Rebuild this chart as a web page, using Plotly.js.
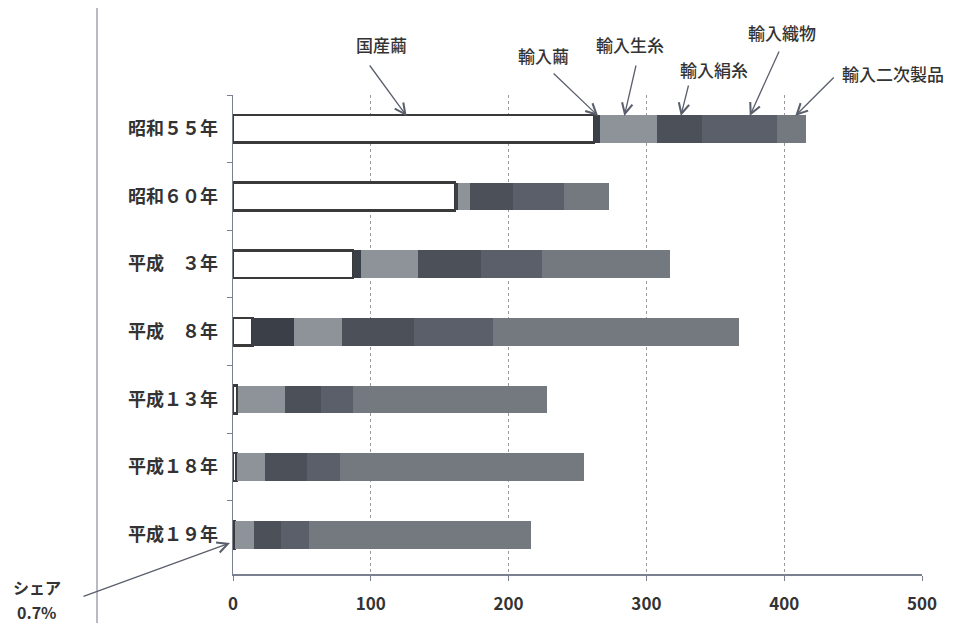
<!DOCTYPE html>
<html>
<head>
<meta charset="utf-8">
<script src="https://cdn.plot.ly/plotly-3.0.1.min.js"></script>
<style>html,body{margin:0;padding:0;background:#fff;}#chart{width:957px;height:623px;}</style>
</head>
<body>
<div id="chart"></div>
<script>
const years = ['昭和５５年','昭和６０年','平成　３年','平成　８年','平成１３年','平成１８年','平成１９年'];
const domesticCocoon = [262, 161, 87, 14, 3, 2.5, 1.5];
const importCocoon   = [4, 2, 6, 30, 0.5, 0.5, 0.2];
const importRawSilk  = [42, 9, 41, 35, 34.5, 20, 13.8];
const importSilkYarn = [32, 31, 46, 52, 26, 31, 19.5];
const importFabric   = [55, 37, 44, 58, 23, 24, 20];
const importSecondary= [21, 33, 93, 178, 141, 177, 161];
const seriesNames = ['国産繭','輸入繭','輸入生糸','輸入絹糸','輸入織物','輸入二次製品'];
const xTicks = [0, 100, 200, 300, 400, 500];

const fillColors = ['#ffffff', '#3b3f48', '#8e9299', '#4b5059', '#5a5f69', '#74787f'];
const allValues = [domesticCocoon, importCocoon, importRawSilk, importSilkYarn, importFabric, importSecondary];

const traces = allValues.map((vals, i) => ({
  type: 'bar', orientation: 'h', name: seriesNames[i],
  x: vals, y: years,
  marker: {color: fillColors[i], line: {color: i === 0 ? '#3a3a3a' : fillColors[i], width: i === 0 ? 2.5 : 0}},
  hoverinfo: 'skip'
}));

const font = 'Noto Sans CJK JP, sans-serif';
const arrowColor = '#5a5f6c';
function arrow(xv, yp, ax, ay) {
  return {x: xv, y: yp, xref: 'x', yref: 'paper', text: '', showarrow: true,
    arrowhead: 5, arrowsize: 1.6, arrowwidth: 1.3, arrowcolor: arrowColor,
    ax: ax, ay: ay, axref: 'pixel', ayref: 'pixel', standoff: 0};
}
function label(t, px, py, size, weight) {
  return {text: t, x: (px - 233) / 689, y: (574 - py) / 479, xref: 'paper', yref: 'paper',
    showarrow: false, xanchor: 'center', yanchor: 'middle',
    font: {family: font, size: size || 17, color: '#333', weight: weight || 500}};
}
const topY = (574 - 116) / 479;

const annotations = [
  label('国産繭', 381, 45), arrow(126, topY, -38, -52),
  label('輸入繭', 543, 56), arrow(265, topY, -46, -44),
  label('輸入生糸', 630, 45), arrow(284, topY, 12, -52),
  label('輸入絹糸', 714, 69), arrow(325, topY, 8, -32),
  label('輸入織物', 782, 33), arrow(375, topY, 30, -66),
  label('輸入二次製品', 893, 74), arrow(408, topY, 40, -40),
  label('シェア', 37, 587, 16, 700), label('0.7%', 37, 612, 16, 700),
  {x: (230 - 233) / 689, y: (574 - 543) / 479, xref: 'paper', yref: 'paper', text: '', showarrow: true,
    arrowhead: 5, arrowsize: 1.6, arrowwidth: 1.3, arrowcolor: arrowColor,
    ax: -148, ay: 54, axref: 'pixel', ayref: 'pixel', standoff: 0}
];

const layout = {
  width: 957, height: 623,
  margin: {l: 233, r: 35, t: 95, b: 49},
  paper_bgcolor: '#fff', plot_bgcolor: '#fff',
  barmode: 'stack', bargap: 0.59, showlegend: false,
  font: {family: font, color: '#333'},
  xaxis: {range: [0, 500], tickvals: xTicks, ticktext: xTicks.map(String),
    showgrid: true, gridcolor: '#9a9a9a', griddash: 'dot', gridwidth: 1,
    zeroline: false, showline: true, linecolor: '#7a8090', linewidth: 1.5,
    ticks: 'outside', ticklen: 5, tickcolor: '#7a8090', ticklabelstandoff: 9,
    tickfont: {family: font, size: 17, color: '#333', weight: 700}, fixedrange: true},
  yaxis: {type: 'category', categoryorder: 'array', categoryarray: years,
    range: [6.58, -0.5], autorange: false,
    showgrid: false, zeroline: false, showline: true, linecolor: '#7a8090', linewidth: 1.5,
    ticks: 'outside', tickson: 'boundaries', ticklen: 5, tickcolor: '#7a8090', ticklabelstandoff: 10,
    tickfont: {family: font, size: 18, color: '#333', weight: 700}, fixedrange: true},
  shapes: [
    {type: 'line', xref: 'paper', yref: 'paper', x0: (97 - 233) / 689, x1: (97 - 233) / 689,
      y0: -49 / 479, y1: (574 - 8) / 479, line: {color: '#8a8e99', width: 1.2}}
  ],
  annotations: annotations
};

Plotly.newPlot('chart', traces, layout, {displayModeBar: false, staticPlot: true});
</script>
</body>
</html>
